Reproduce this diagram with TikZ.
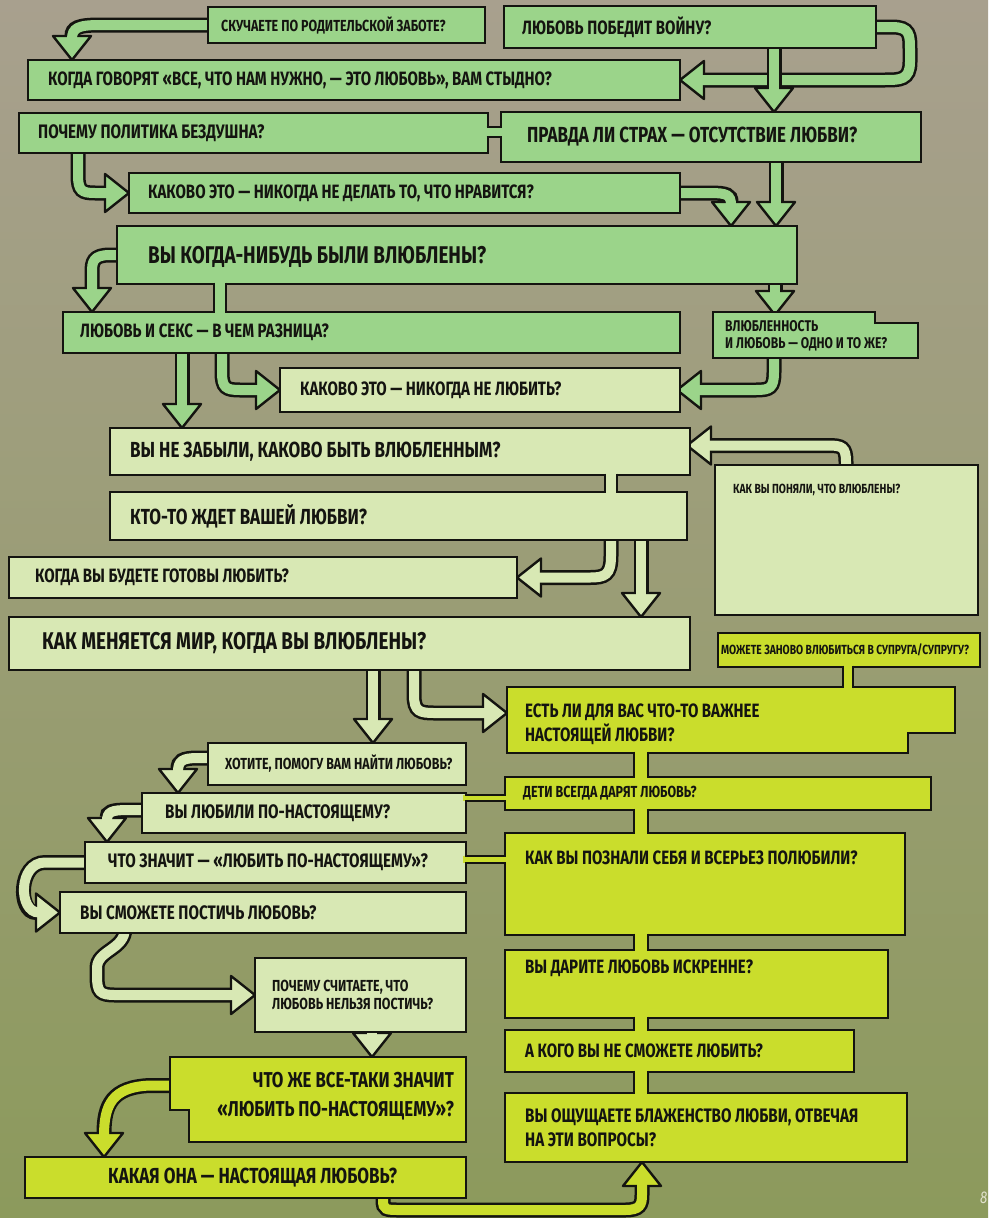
\documentclass[tikz,border=0pt]{standalone}
\usepackage{fontspec}
\setmainfont{Fira Sans}[FakeStretch=0.78]
\usetikzlibrary{calc}
\definecolor{gA}{RGB}{155,212,138}
\definecolor{gB}{RGB}{216,232,180}
\definecolor{gC}{RGB}{202,221,44}
\definecolor{bgT}{RGB}{168,160,142}
\definecolor{bgM}{RGB}{155,156,118}
\definecolor{bgB}{RGB}{140,154,92}
\definecolor{ink}{RGB}{20,20,16}
\definecolor{pgno}{RGB}{225,225,205}
\pgfdeclarelayer{bg}\pgfdeclarelayer{arr}\pgfsetlayers{bg,arr,main}
\newcommand\fzA{\fontsize{13.2}{16.5}\selectfont\bfseries}
\newcommand\fzI{\fontsize{15.5}{17}\selectfont\bfseries}
\newcommand\fzB{\fontsize{16}{18.5}\selectfont\bfseries}
\newcommand\fzC{\fontsize{19.3}{24}\selectfont\bfseries}
\newcommand\fzD{\fontsize{19.5}{23.5}\selectfont\bfseries}
\newcommand\fzE{\fontsize{21.8}{28}\selectfont\bfseries}
\newcommand\fzAA{\fontsize{21.5}{29}\selectfont\bfseries}
\newcommand\fzF{\fontsize{24.2}{30}\selectfont\bfseries}
\tikzset{
  bx/.style={draw=ink, line width=2.6pt, anchor=north west, inner sep=0pt, outer sep=0pt},
  bxi/.style={anchor=north west, inner sep=0pt, outer sep=0pt},
  poly/.style={draw=ink, line width=2.6pt, line join=miter},
  tx/.style={anchor=west, inner sep=0pt, align=left, text=ink},
  sh/.style={draw=ink, line width=15pt},
  shin/.style={draw=#1, line width=10pt, shorten >=-3pt},
  pics/fhead/.style={code={\filldraw[draw=ink, line width=2.4pt, fill=#1, line join=round] (0,-19) -- (24,0) -- (0,19) -- cycle;}},
  sline/.style={draw=ink, line width=2.6pt, shorten <=-1.3pt, shorten >=-1.3pt},
}
\newcommand\farr[4]{%
  \draw[sh] #2 #3;
  \pic[rotate=#4] at #3 {fhead=#1};
  \draw[shin=#1] #2 #3;
}
\newcommand\vstrip[5]{%
  \fill[#5] ($(#3,0 |- #1.south)+(0,-3)$) rectangle ($(#4,0 |- #2.north)+(0,3)$);
  \draw[sline] (#3,0 |- #1.south) -- (#3,0 |- #2.north);
  \draw[sline] (#4,0 |- #1.south) -- (#4,0 |- #2.north);
}
\newcommand\hstrip[5]{%
  \fill[#5] ($(#1.east |- 0,#3)+(-3,0)$) rectangle ($(#2.west |- 0,#4)+(3,0)$);
  \draw[sline] (#1.east |- 0,#3) -- (#2.west |- 0,#3);
  \draw[sline] (#1.east |- 0,#4) -- (#2.west |- 0,#4);
}
\begin{document}
\begin{tikzpicture}[x=1pt,y=-1pt]
\begin{pgfonlayer}{bg}
\shade[top color=bgT, middle color=bgM, bottom color=bgB] (0,0) rectangle (988,1218);
\end{pgfonlayer}
\useasboundingbox (0,0) rectangle (988,1218);

% ---------- boxes ----------
\node[bx, fill=gA, minimum width=277pt, minimum height=36pt] (A) at (208,7) {};
\node[bx, fill=gA, minimum width=372pt, minimum height=42pt] (B) at (504,6) {};
\node[bx, fill=gA, minimum width=652pt, minimum height=40pt] (C) at (28,60) {};
\node[bx, fill=gA, minimum width=469pt, minimum height=40pt] (D) at (19,113) {};
\node[bx, fill=gA, minimum width=420pt, minimum height=50pt] (E) at (501,112) {};
\node[bx, fill=gA, minimum width=551pt, minimum height=40pt] (F) at (129,173) {};
\node[bx, fill=gA, minimum width=680pt, minimum height=58pt] (G) at (117,226) {};
\node[bx, fill=gA, minimum width=617pt, minimum height=41pt] (H) at (63,312) {};
\node[bxi, minimum width=205pt, minimum height=46pt] (I) at (713,312) {};
\filldraw[poly, fill=gA] (713,312) -- (875,312) -- (875,323) -- (918,323) -- (918,358) -- (713,358) -- cycle;
\node[bx, fill=gB, minimum width=400pt, minimum height=44pt] (J) at (280,368) {};
\node[bx, fill=gB, minimum width=580pt, minimum height=47pt] (K) at (110,428) {};
\node[bx, fill=gB, minimum width=263pt, minimum height=150pt] (L) at (715,465) {};
\node[bx, fill=gB, minimum width=577pt, minimum height=48pt] (M) at (110,492) {};
\node[bx, fill=gB, minimum width=508pt, minimum height=41pt] (N) at (9,557) {};
\node[bx, fill=gB, minimum width=681pt, minimum height=53pt] (O) at (9,617) {};
\node[bx, fill=gC, minimum width=262pt, minimum height=34pt] (P) at (718,633) {};
\node[bxi, minimum width=448pt, minimum height=66pt] (Q) at (507,687) {};
\filldraw[poly, fill=gC] (507,687) -- (955,687) -- (955,733) -- (908,733) -- (908,753) -- (507,753) -- cycle;
\node[bx, fill=gB, minimum width=258pt, minimum height=42pt] (R) at (208,743) {};
\node[bx, fill=gC, minimum width=426pt, minimum height=33pt] (S) at (505,777) {};
\node[bx, fill=gB, minimum width=324pt, minimum height=40pt] (T) at (142,793) {};
\node[bx, fill=gB, minimum width=381pt, minimum height=41pt] (U) at (85,842) {};
\node[bx, fill=gC, minimum width=400pt, minimum height=102pt] (V) at (505,833) {};
\node[bx, fill=gB, minimum width=406pt, minimum height=41pt] (W) at (60,892) {};
\node[bx, fill=gC, minimum width=383pt, minimum height=68pt] (X) at (505,950) {};
\node[bx, fill=gB, minimum width=211pt, minimum height=74pt] (Y) at (255,958) {};
\node[bx, fill=gC, minimum width=349pt, minimum height=42pt] (Z) at (505,1030) {};
\node[bxi, minimum width=296pt, minimum height=85pt] (AA) at (170,1057) {};
\filldraw[poly, fill=gC] (170,1057) -- (466,1057) -- (466,1142) -- (189,1142) -- (189,1110) -- (170,1110) -- cycle;
\node[bx, fill=gC, minimum width=402pt, minimum height=69pt] (BB) at (505,1093) {};
\node[bx, fill=gC, minimum width=441pt, minimum height=41pt] (CC) at (25,1157) {};

% ---------- strips joining boxes ----------
\hstrip{D}{E}{127}{137}{gA}
\vstrip{G}{H}{214}{226}{gA}
\vstrip{K}{M}{605}{617}{gB}
\vstrip{P}{Q}{843}{853}{gC}
\vstrip{Q}{S}{634}{648}{gC}
\vstrip{S}{V}{634}{648}{gC}
\vstrip{V}{X}{634}{648}{gC}
\vstrip{X}{Z}{634}{648}{gC}
\vstrip{Z}{BB}{634}{648}{gC}
\hstrip{T}{S}{795}{801}{gC}
\hstrip{U}{V}{856}{863}{gC}

% ---------- texts ----------
\node[tx, font=\fzB] (tA) at ([xshift=13pt]A.west) {СКУЧАЕТЕ ПО РОДИТЕЛЬСКОЙ ЗАБОТЕ?};
\node[tx, font=\fzC] (tB) at ([xshift=18pt]B.west) {ЛЮБОВЬ ПОБЕДИТ ВОЙНУ?};
\node[tx, font=\fzC] (tC) at ([xshift=20pt]C.west) {КОГДА ГОВОРЯТ «ВСЕ, ЧТО НАМ НУЖНО, — ЭТО ЛЮБОВЬ», ВАМ СТЫДНО?};
\node[tx, font=\fzD] (tD) at ([xshift=19pt]D.west) {ПОЧЕМУ ПОЛИТИКА БЕЗДУШНА?};
\node[tx, font=\fzE] (tE) at ([xshift=26pt]E.west) {ПРАВДА ЛИ СТРАХ — ОТСУТСТВИЕ ЛЮБВИ?};
\node[tx, font=\fzC] (tF) at ([xshift=19pt]F.west) {КАКОВО ЭТО — НИКОГДА НЕ ДЕЛАТЬ ТО, ЧТО НРАВИТСЯ?};
\node[tx, font=\fzF] (tG) at ([xshift=31pt,yshift=-2pt]G.west) {ВЫ КОГДА-НИБУДЬ БЫЛИ ВЛЮБЛЕНЫ?};
\node[tx, font=\fzC] (tH) at ([xshift=17pt]H.west) {ЛЮБОВЬ И СЕКС — В ЧЕМ РАЗНИЦА?};
\node[tx, font=\fzI] (tI) at ([xshift=12pt,yshift=-1pt]I.west) {ВЛЮБЛЕННОСТЬ\\И ЛЮБОВЬ — ОДНО И ТО ЖЕ?};
\node[tx, font=\fzC] (tJ) at ([xshift=20pt]J.west) {КАКОВО ЭТО — НИКОГДА НЕ ЛЮБИТЬ?};
\node[tx, font=\fzE] (tK) at ([xshift=20pt]K.west) {ВЫ НЕ ЗАБЫЛИ, КАКОВО БЫТЬ ВЛЮБЛЕННЫМ?};
\node[tx, font=\fzA] (tL) at ([xshift=18pt,yshift=-25pt]L.north west) {КАК ВЫ ПОНЯЛИ, ЧТО ВЛЮБЛЕНЫ?};
\node[tx, font=\fzE] (tM) at ([xshift=20pt]M.west) {КТО-ТО ЖДЕТ ВАШЕЙ ЛЮБВИ?};
\node[tx, font=\fzC] (tN) at ([xshift=26pt]N.west) {КОГДА ВЫ БУДЕТЕ ГОТОВЫ ЛЮБИТЬ?};
\node[tx, font=\fzF] (tO) at ([xshift=33pt]O.west) {КАК МЕНЯЕТСЯ МИР, КОГДА ВЫ ВЛЮБЛЕНЫ?};
\node[tx, font=\fzA] (tP) at ([xshift=3pt]P.west) {МОЖЕТЕ ЗАНОВО ВЛЮБИТЬСЯ В СУПРУГА/СУПРУГУ?};
\node[tx, font=\fzC] (tQ) at ([xshift=18pt,yshift=-4pt]Q.west) {ЕСТЬ ЛИ ДЛЯ ВАС ЧТО-ТО ВАЖНЕЕ\\НАСТОЯЩЕЙ ЛЮБВИ?};
\node[tx, font=\fzB] (tR) at ([xshift=17pt]R.west) {ХОТИТЕ, ПОМОГУ ВАМ НАЙТИ ЛЮБОВЬ?};
\node[tx, font=\fzB] (tS) at ([xshift=18pt]S.west) {ДЕТИ ВСЕГДА ДАРЯТ ЛЮБОВЬ?};
\node[tx, font=\fzD] (tT) at ([xshift=23pt]T.west) {ВЫ ЛЮБИЛИ ПО-НАСТОЯЩЕМУ?};
\node[tx, font=\fzD] (tU) at ([xshift=23pt]U.west) {ЧТО ЗНАЧИТ — «ЛЮБИТЬ ПО-НАСТОЯЩЕМУ»?};
\node[tx, font=\fzC] (tV) at ([xshift=20pt,yshift=-25pt]V.north west) {КАК ВЫ ПОЗНАЛИ СЕБЯ И ВСЕРЬЕЗ ПОЛЮБИЛИ?};
\node[tx, font=\fzD] (tW) at ([xshift=20pt]W.west) {ВЫ СМОЖЕТЕ ПОСТИЧЬ ЛЮБОВЬ?};
\node[tx, font=\fzC] (tX) at ([xshift=20pt,yshift=-18pt]X.north west) {ВЫ ДАРИТЕ ЛЮБОВЬ ИСКРЕННЕ?};
\node[tx, font=\fzB] (tY) at ([xshift=17pt]Y.west) {ПОЧЕМУ СЧИТАЕТЕ, ЧТО\\ЛЮБОВЬ НЕЛЬЗЯ ПОСТИЧЬ?};
\node[tx, font=\fzC] (tZ) at ([xshift=20pt]Z.west) {А КОГО ВЫ НЕ СМОЖЕТЕ ЛЮБИТЬ?};
\node[tx, font=\fzAA, anchor=east, align=right] (tAA) at ([xshift=-12pt,yshift=3pt]AA.east) {ЧТО ЖЕ ВСЕ-ТАКИ ЗНАЧИТ\\«ЛЮБИТЬ ПО-НАСТОЯЩЕМУ»?};
\node[tx, font=\fzD] (tBB) at ([xshift=20pt]BB.west) {ВЫ ОЩУЩАЕТЕ БЛАЖЕНСТВО ЛЮБВИ, ОТВЕЧАЯ\\НА ЭТИ ВОПРОСЫ?};
\node[tx, font=\fzE] (tCC) at ([xshift=83pt]CC.west) {КАКАЯ ОНА — НАСТОЯЩАЯ ЛЮБОВЬ?};
\node[anchor=west, inner sep=0pt, font=\fontsize{17}{17}\selectfont\itshape, text=pgno] (pg) at (980,1198) {8};

% ---------- fat arrows ----------
\begin{pgfonlayer}{arr}
\farr{gA}{(A.west) -- (100,25) .. controls (78,25) and (72,28) ..}{($(72,0 |- C.north)+(0,-24)$)}{-90}
\farr{gA}{(B.east) -- (892,27) .. controls (910,27) and (910,35) .. (910,50) -- (910,62) .. controls (910,80) and (900,80) .. (885,80) --}{($(C.east)+(24,0)$)}{180}
\farr{gA}{($(774,0 |- B.south)+(0,-6)$) --}{($(774,0 |- E.north)+(0,-24)$)}{-90}
\farr{gA}{($(78,0 |- D.south)+(0,-5)$) -- (78,175) .. controls (78,191) and (82,193) .. (95,193) --}{($(F.west)+(-24,0)$)}{0}
\farr{gA}{(F.east) -- (710,193) .. controls (727,193) and (731,195) ..}{($(731,0 |- G.north)+(0,-24)$)}{-90}
\farr{gA}{($(776,0 |- E.south)+(0,-5)$) --}{($(776,0 |- G.north)+(0,-24)$)}{-90}
\farr{gA}{(G.west) -- (110,255) .. controls (93,255) and (92,262) .. (92,272) --}{($(92,0 |- H.north)+(0,-24)$)}{-90}
\farr{gA}{($(775,0 |- G.south)+(0,-5)$) --}{($(775,0 |- I.north)+(0,-21)$)}{-90}
\farr{gA}{($(182,0 |- H.south)+(0,-5)$) --}{($(182,0 |- K.north)+(0,-24)$)}{-90}
\farr{gA}{($(222,0 |- H.south)+(0,-5)$) -- (222,372) .. controls (222,388) and (226,390) .. (240,390) --}{($(J.west)+(-24,0)$)}{0}
\farr{gA}{($(774,0 |- I.south)+(0,-5)$) -- (774,372) .. controls (774,388) and (770,390) .. (756,390) --}{($(J.east)+(21,0)$)}{180}
\farr{gB}{($(846,0 |- L.north)+(0,5)$) -- (846,462) .. controls (846,447) and (842,445.5) .. (828,445.5) --}{($(K.east)+(21,-6)$)}{180}
\farr{gB}{($(611,0 |- M.south)+(0,-5)$) -- (611,556) .. controls (611,575) and (605,577.5) .. (590,577.5) --}{($(N.east)+(24,0)$)}{180}
\farr{gB}{($(641,0 |- M.south)+(0,-5)$) --}{($(641,0 |- O.north)+(0,-24)$)}{-90}
\farr{gB}{($(414,0 |- O.south)+(0,-5)$) -- (414,695) .. controls (414,712) and (420,713) .. (435,713) --}{($(Q.west)+(-24,-7)$)}{0}
\farr{gB}{($(373,0 |- O.south)+(0,-5)$) --}{($(373,0 |- R.north)+(0,-24)$)}{-90}
\farr{gB}{($(R.west)+(0,-6)$) -- (198,758) .. controls (182,758) and (178,761) ..}{($(178,0 |- T.north)+(0,-24)$)}{-90}
\farr{gB}{($(T.west)+(0,-3)$) -- (128,810) .. controls (111,810) and (107,812) ..}{($(107,0 |- U.north)+(0,-24)$)}{-90}
\farr{gB}{(U.west) -- (45,862.5) .. controls (18,862.5) and (18,912.5) ..}{($(W.west)+(-24,0)$)}{0}
\farr{gB}{($(125,0 |- W.south)+(0,-5)$) .. controls (125,950) and (97,950) .. (97,968) -- (97,976) .. controls (97,992) and (100,995) .. (115,995) --}{($(Y.west)+(-24,0)$)}{0}
\farr{gB}{($(372,0 |- Y.south)+(0,-5)$) --}{($(372,0 |- AA.north)+(0,-24)$)}{-90}
\farr{gC}{($(AA.west)+(0,-14)$) -- (150,1085.5) .. controls (112,1087) and (104,1105) ..}{($(104,0 |- CC.north)+(0,-24)$)}{-90}
\farr{gC}{($(383,0 |- CC.south)+(0,-5)$) -- (383,1200) .. controls (383,1210) and (386,1210) .. (400,1210) -- (625,1210) .. controls (640,1210) and (642,1205) .. (642,1195) --}{($(642,0 |- BB.south)+(0,24)$)}{90}
\end{pgfonlayer}
\end{tikzpicture}
\end{document}
